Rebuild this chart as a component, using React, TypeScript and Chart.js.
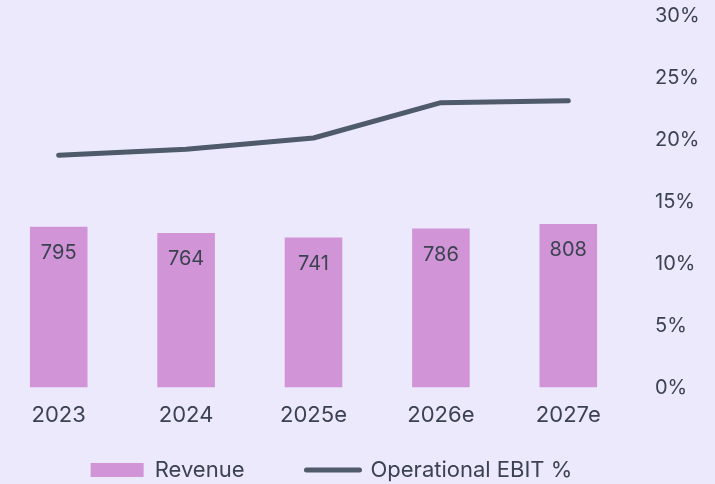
import React, { useEffect, useRef } from "react";
import { Chart, registerables } from "chart.js";

Chart.register(...registerables);

const categories = ["2023", "2024", "2025e", "2026e", "2027e"];
const revenue = [795, 764, 741, 786, 808];
const ebitPct = [18.75, 19.25, 20.15, 23.0, 23.15];
const pctTicks = [0, 5, 10, 15, 20, 25, 30];

const BG = "#ECE9FD";
const BAR = "#D094D7";
const LINE = "#4F5A6A";
const TEXT = "#3B4250";
const FONT = "Inter";

const CANVAS_TOP = -19;
const CANVAS_H = 519;

export default function App() {
  const ref = useRef<HTMLCanvasElement | null>(null);

  useEffect(() => {
    document.body.style.margin = "0";
    document.body.style.background = BG;
    document.body.style.overflow = "hidden";
    const canvas = ref.current;
    if (!canvas) return;

    const barLabels = {
      id: "barLabels",
      afterDatasetsDraw(chart: any) {
        const meta = chart.getDatasetMeta(0);
        const ctx = chart.ctx;
        ctx.save();
        ctx.fillStyle = TEXT;
        ctx.font = `20px ${FONT}`;
        ctx.textAlign = "center";
        ctx.textBaseline = "middle";
        meta.data.forEach((el: any, i: number) => {
          ctx.fillText(String(revenue[i]), el.x, el.y + 26);
        });
        ctx.restore();
      },
    };

    const legendShift = {
      id: "legendShift",
      afterLayout(chart: any) {
        const lg = chart.legend;
        if (!lg) return;
        const P = lg.options.labels.padding;
        const itemH = 22;
        const w = lg.right - lg.left;
        const cx = (lg.left + lg.right) / 2;
        lg.left += 336.5 - cx;
        lg.right = lg.left + w;
        lg.top = 470 - CANVAS_TOP - itemH / 2 - P;
        lg.bottom = lg.top + 2 * P + itemH;
        lg.height = lg.bottom - lg.top;
      },
    };

    const chart = new Chart(canvas, {
      type: "bar",
      data: {
        labels: categories,
        datasets: [
          {
            type: "bar",
            label: "Revenue",
            data: revenue,
            backgroundColor: BAR,
            borderWidth: 0,
            yAxisID: "y",
            categoryPercentage: 1,
            barPercentage: 0.452,
            order: 2,
          },
          {
            type: "line",
            label: "Operational EBIT %",
            data: ebitPct,
            borderColor: LINE,
            backgroundColor: LINE,
            borderWidth: 5,
            borderCapStyle: "round",
            borderJoinStyle: "round",
            pointRadius: 0,
            tension: 0,
            yAxisID: "y1",
            order: 1,
          },
        ],
      },
      options: {
        responsive: false,
        animation: false,
        layout: { padding: { top: 16, left: 0, right: 0, bottom: 0 } },
        plugins: {
          tooltip: { enabled: false },
          legend: {
            position: "bottom",
            maxHeight: 56,
            labels: {
              color: TEXT,
              font: { family: FONT, size: 22 },
              padding: 62,
              usePointStyle: true,
              pointStyleWidth: 53,
              boxHeight: 14,
              sort: (a: any, b: any) => a.datasetIndex - b.datasetIndex,
              generateLabels(chart: any) {
                const items = Chart.defaults.plugins.legend.labels.generateLabels(chart);
                items.forEach((it: any) => {
                  if (it.datasetIndex === 0) {
                    it.pointStyle = "rect";
                    it.fillStyle = BAR;
                    it.strokeStyle = BAR;
                    it.lineWidth = 0;
                  } else {
                    it.pointStyle = "line";
                    it.fillStyle = LINE;
                    it.strokeStyle = LINE;
                    it.lineWidth = 5;
                    it.lineCap = "round";
                  }
                });
                return items;
              },
            },
          },
        },
        scales: {
          x: {
            offset: true,
            grid: { display: false, drawTicks: false },
            border: { display: false },
            ticks: {
              color: TEXT,
              font: { family: FONT, size: 22 },
              padding: 15,
              maxRotation: 0,
            },
          },
          y: {
            display: false,
            min: 0,
            max: 1836,
          },
          y1: {
            position: "right",
            min: 0,
            max: 30,
            grid: { display: false, drawTicks: false },
            border: { display: false },
            afterFit(scale: any) {
              scale.width = 83;
            },
            afterBuildTicks(scale: any) {
              scale.ticks = pctTicks.map((v) => ({ value: v }));
            },
            ticks: {
              color: TEXT,
              font: { family: FONT, size: 20 },
              padding: 23,
              callback: (v: any) => `${v}%`,
            },
          },
        },
      },
      plugins: [barLabels, legendShift],
    });

    return () => chart.destroy();
  }, []);

  return (
    <div style={{ position: "fixed", left: -5, top: CANVAS_TOP, width: 720, height: CANVAS_H, background: BG }}>
      <canvas ref={ref} width={720} height={CANVAS_H} style={{ display: "block" }} />
    </div>
  );
}
